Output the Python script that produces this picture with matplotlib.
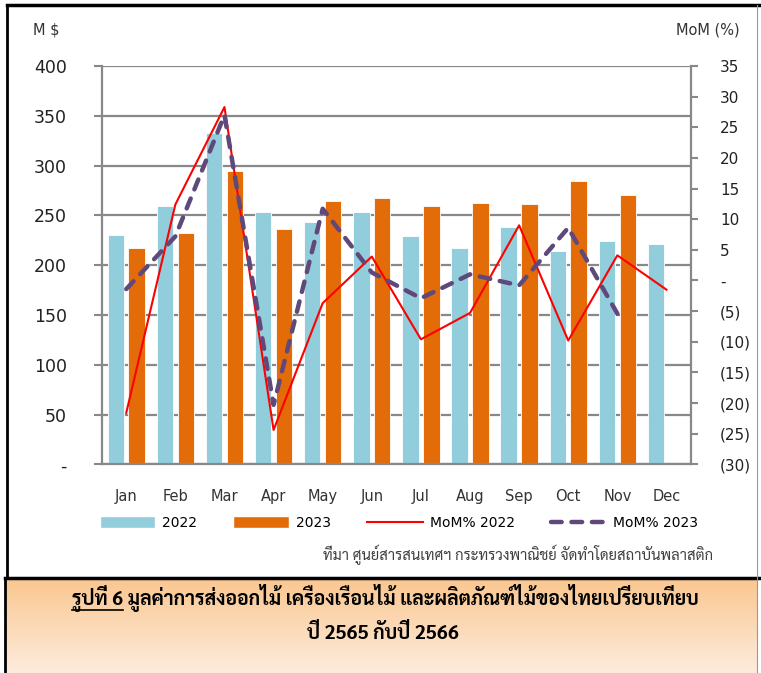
import matplotlib
matplotlib.use("Agg")
import matplotlib.pyplot as plt
import numpy as np
from matplotlib.lines import Line2D
from matplotlib.patches import Patch

# data
months = ["Jan", "Feb", "Mar", "Apr", "May", "Jun", "Jul", "Aug", "Sep", "Oct", "Nov", "Dec"]
export_2022 = [230, 259, 333, 253, 243, 253, 229, 217, 238, 214, 224, 221]
export_2023 = [217, 232, 295, 236, 264, 267, 259, 262, 261, 285, 270]
mom_2022 = [-21.6, 12.4, 28.3, -24.4, -3.7, 3.9, -9.6, -5.3, 9.0, -9.8, 4.1, -1.5]
mom_2023 = [-1.4, 7.2, 27.0, -20.3, 11.7, 1.3, -2.9, 1.0, -0.8, 8.6, -5.4]
left_ticks = [0, 50, 100, 150, 200, 250, 300, 350, 400]
right_ticks = list(range(-30, 40, 5))

source_text = "ที่มา ศูนย์สารสนเทศฯ กระทรวงพาณิชย์ จัดทำโดยสถาบันพลาสติก"
caption_prefix = "รูปที่ 6"
caption_line1 = "รูปที่ 6 มูลค่าการส่งออกไม้ เครื่องเรือนไม้ และผลิตภัณฑ์ไม้ของไทยเปรียบเทียบ"
caption_line2 = "ปี 2565 กับปี 2566"

C_2022 = "#92CDDC"
C_2023 = "#E36C09"
C_MOM22 = "#FF0000"
C_MOM23 = "#5F497A"
GRID = "#888888"
THAI = ["Sarabun", "DejaVu Sans"]
CAP_SIZE = 14

W, H = 761, 673


def fx(px):
    return px / W


def fy(py):
    return 1 - py / H


fig = plt.figure(figsize=(W / 100, H / 100), dpi=100)

# main axes
ax = fig.add_axes([fx(101.7), fy(464.3), fx(691) - fx(101.7), fy(66) - fy(464.3)])
x = np.arange(len(months))
ax.bar(x - 0.213, export_2022, 0.335, color=C_2022, edgecolor="white", linewidth=0.6, zorder=2)
ax.bar(x[:len(export_2023)] + 0.213, export_2023, 0.335, color=C_2023, edgecolor="white",
       linewidth=0.6, zorder=2)
ax.set_xlim(-0.5, 11.5)
ax.set_ylim(0, 400)
ax.set_yticks(left_ticks)
ax.set_yticklabels(["-" if v == 0 else str(v) for v in left_ticks], fontsize=12.5, color="#222222")
ax.yaxis.grid(True, color=GRID, linewidth=1.6, zorder=0)
ax.set_axisbelow(True)
ax.tick_params(axis="y", direction="out", length=6, width=1.5, color=GRID, pad=19)
ax.set_xticks(x)
ax.set_xticklabels(months, fontsize=10.5, color="#333333")
ax.tick_params(axis="x", length=0, pad=18)
for side in ["left", "bottom"]:
    ax.spines[side].set_color(GRID)
    ax.spines[side].set_linewidth(1.6)
ax.spines["top"].set_visible(False)
ax.spines["right"].set_visible(False)

ax2 = ax.twinx()
ax2.plot(x, mom_2022, color=C_MOM22, linewidth=1.5, zorder=3)
ax2.plot(x[:len(mom_2023)], mom_2023, color=C_MOM23, linewidth=3.2, dashes=(2.4, 2.2),
         dash_capstyle="round", solid_capstyle="round", zorder=4)
ax2.set_ylim(-30, 35)
ax2.set_yticks(right_ticks)
ax2.set_yticklabels(["-" if v == 0 else (f"({-v})" if v < 0 else str(v)) for v in right_ticks],
                    fontsize=11, color="#222222")
ax2.tick_params(axis="y", direction="out", length=5, width=1.5, color=GRID, pad=16)
ax2.spines["right"].set_color(GRID)
ax2.spines["right"].set_linewidth(1.6)
for side in ["left", "top", "bottom"]:
    ax2.spines[side].set_visible(False)

fig.text(fx(33), fy(30), "M $", fontsize=10.5, color="#333333", va="center", ha="left")
fig.text(fx(740), fy(30), "MoM (%)", fontsize=10.5, color="#333333", va="center", ha="right")

handles = [
    Patch(facecolor=C_2022, edgecolor="white"),
    Patch(facecolor=C_2023, edgecolor="white"),
    Line2D([], [], color=C_MOM22, linewidth=1.5),
    Line2D([], [], color=C_MOM23, linewidth=3.2, dashes=(2.4, 2.2), dash_capstyle="round"),
]
fig.legend(handles, ["2022", "2023", "MoM% 2022", "MoM% 2023"], loc="center",
           bbox_to_anchor=(fx(399), fy(523)), ncol=4, frameon=False, fontsize=10,
           handlelength=4.0, handleheight=1.0, handletextpad=0.5, columnspacing=2.6)

fig.text(fx(713), fy(555), source_text, fontsize=10.6, color="#404040", ha="right", va="center",
         family=THAI)

# caption box with gradient fill
cap = fig.add_axes([fx(5), 0, fx(757) - fx(5), fy(578)])
grad = np.linspace(0, 1, 256)[:, None]
top_c = np.array([250, 198, 142]) / 255
bot_c = np.array([253, 236, 222]) / 255
img = top_c[None, None, :] * (1 - grad[:, :, None]) + bot_c[None, None, :] * grad[:, :, None]
cap.imshow(img, aspect="auto", extent=[0, 1, 0, 1])
cap.set_axis_off()

t1 = fig.text(fx(385), fy(598), caption_line1, fontsize=CAP_SIZE, fontweight="bold", ha="center",
              va="center", family=THAI)
fig.text(fx(383), fy(633), caption_line2, fontsize=CAP_SIZE, fontweight="bold", ha="center",
         va="center", family=THAI)

# underline the figure number part of the caption
fig.canvas.draw()
renderer = fig.canvas.get_renderer()
bb = t1.get_window_extent(renderer)
probe = fig.text(0, 0, caption_prefix, fontsize=CAP_SIZE, fontweight="bold", family=THAI)
pw = probe.get_window_extent(renderer).width
probe.remove()
uy = (bb.y0 + 2) / fig.bbox.height
fig.add_artist(Line2D([bb.x0 / fig.bbox.width, (bb.x0 + pw) / fig.bbox.width], [uy, uy],
                      color="black", linewidth=1.2))

# frame lines
frame = [
    ([fx(7), 1], [fy(5), fy(5)], 2.5, "black"),
    ([fx(7), fx(7)], [fy(5), fy(578)], 2.0, "black"),
    ([fx(5), 1], [fy(578), fy(578)], 2.5, "black"),
    ([fx(5), fx(5)], [fy(578), 0], 2.0, "black"),
    ([fx(757), fx(757)], [fy(5), 0], 0.8, "#999999"),
]
for xs, ys, lw, c in frame:
    fig.add_artist(Line2D(xs, ys, color=c, linewidth=lw))

fig.savefig("out.png", dpi=100)
